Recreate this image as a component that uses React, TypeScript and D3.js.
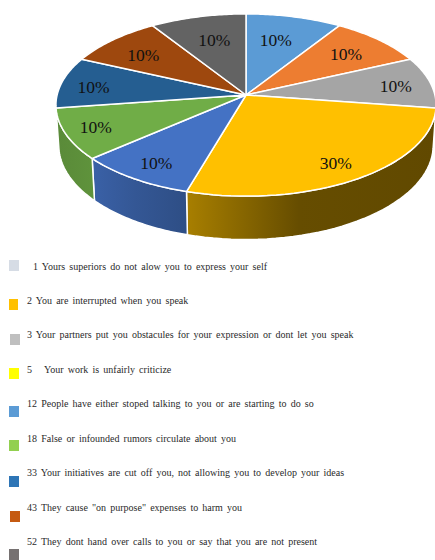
import React from "react";
import * as d3 from "d3";

// Pie slices, clockwise from twelve o'clock
const sliceValues = [10, 10, 10, 30, 10, 10, 10, 10, 10];
const sliceColors = ["#5B9BD5", "#ED7D31", "#A5A5A5", "#FFC000", "#4472C4", "#70AD47", "#255E91", "#9E480E", "#636363"];

// Legend entries
const legendLabels = [
  "1 Yours superiors do not alow you to express your self",
  "2 You are interrupted when you speak",
  "3 Your partners put you obstacules for your expression or dont let you speak",
  "5\u00A0\u00A0 Your work is unfairly criticize",
  "12 People have either stoped talking to you or are starting to do so",
  "18 False or infounded rumors circulate about you",
  "33 Your initiatives are cut off you, not allowing you to develop your ideas",
  '43 They cause "on purpose" expenses to harm you',
  "52 They dont hand over calls to you or say that you are not present",
];
const legendColors = ["#D6DCE5", "#FFC000", "#BFBFBF", "#FFFF00", "#5B9BD5", "#92D050", "#2E75B6", "#C55A11", "#767171"];

// Layout of the tilted disc
const CENTER_X = 246;
const CENTER_Y = 95;
const HALF_WIDTH = 188.9;
const HALF_HEIGHT = 90;
const PERSPECTIVE = 0.11;
const THICKNESS = 40;
const BASE_SHRINK = 0.985;

// How far out each percentage label sits, as a share of the radius, plus a small hand nudge
const labelReach = [0.7, 0.7, 0.8, 0.83, 0.82, 0.84, 0.82, 0.72, 0.7];
const labelNudgeX = [-5, 5, 2, -2, 1, 0, -1, -5, 3];
const labelNudgeY = [1, -2, 1, 0, 1, -1, 2, 0, 1];
// Darkening of the side wall, left and right, per slice
const wallShade: Record<number, number[]> = {
  3: [0.66, 0.4, 0.38],
  4: [0.85, 0.76, 0.68],
  5: [0.8, 0.82, 0.85],
};

// Legend rows: swatch box and text baseline
const swatchX = [9, 9, 10, 9, 9, 9, 9, 10, 9];
const swatchY = [260, 299, 334, 368, 406, 440, 476, 511, 549];
const swatchW = [10, 9, 10, 10, 10, 10, 10, 10, 10];
const textX = [33, 27, 27, 27, 27, 27, 27, 27, 27];
const textY = [270, 304, 338, 373, 407, 442, 476, 511, 545];

const xScale = d3.scaleLinear().domain([-1, 1]).range([CENTER_X - HALF_WIDTH, CENTER_X + HALF_WIDTH]);
const yScale = d3.scaleLinear().domain([-1, 1]).range([CENTER_Y - HALF_HEIGHT, CENTER_Y + HALF_HEIGHT]);

// Projects a point of the disc (angle clockwise from the top, radius 0..1) to the page
function project(angle: number, radius: number, onBase = false): [number, number] {
  const sx = Math.sin(angle) * radius;
  const sz = Math.cos(angle) * radius;
  const persp = 1 / (1 + PERSPECTIVE * sz);
  const shrink = onBase ? BASE_SHRINK : 1;
  const x = xScale(sx * persp * shrink);
  const y = yScale(-sz * persp * shrink) + (onBase ? THICKNESS * persp : 0);
  return [x, y];
}

const toPath = d3.line<[number, number]>();

const arcAngles = (start: number, end: number) => d3.range(0, 41).map((i) => start + ((end - start) * i) / 40);

const slices = d3.pie<number>().sort(null)(sliceValues);

function topPath(start: number, end: number) {
  const rim = arcAngles(start, end).map((a) => project(a, 1));
  return toPath([project(0, 0), ...rim]) + "Z";
}

function wallPath(start: number, end: number) {
  const angles = arcAngles(start, end);
  const upper = angles.map((a) => project(a, 1));
  const lower = angles.map((a) => project(a, 1, true)).reverse();
  return toPath([...upper, ...lower]) + "Z";
}

const shade = (color: string, k: number) => {
  const c = d3.rgb(color);
  return d3.rgb(c.r * k, c.g * k, c.b * k).formatHex();
};

export default function App() {
  const walls = slices.filter((s) => Math.cos((s.startAngle + s.endAngle) / 2) < 0);
  return (
    <svg
      width={435}
      height={560}
      viewBox="0 0 435 560"
      style={{ position: "absolute", left: 0, top: 0, background: "#fff" }}
    >
      <defs>
        {walls.map((s) => (
          <linearGradient key={s.index} id={`wall-${s.index}`} x1="0" x2="1" y1="0" y2="0">
            {wallShade[s.index].map((k, i) => (
              <stop key={i} offset={i === 0 ? 0 : i === 1 ? 0.45 : 1} stopColor={shade(sliceColors[s.index], k)} />
            ))}
          </linearGradient>
        ))}
      </defs>

      {walls.map((s) => (
        <path
          key={s.index}
          d={wallPath(s.startAngle, s.endAngle)}
          fill={`url(#wall-${s.index})`}
          stroke="#fff"
          strokeWidth={1.5}
          strokeLinejoin="round"
        />
      ))}

      {slices.map((s) => (
        <path
          key={s.index}
          d={topPath(s.startAngle, s.endAngle)}
          fill={sliceColors[s.index]}
          stroke="#fff"
          strokeWidth={1.5}
          strokeLinejoin="round"
        />
      ))}

      {slices.map((s) => {
        const [x, y] = project((s.startAngle + s.endAngle) / 2, labelReach[s.index]);
        return (
          <text
            key={s.index}
            x={x + labelNudgeX[s.index]}
            y={y + labelNudgeY[s.index]}
            dy="0.34em"
            textAnchor="middle"
            fontFamily="'Liberation Serif', serif"
            fontSize={17.5}
            fill="#111"
          >
            {`${s.value}%`}
          </text>
        );
      })}

      {legendLabels.map((label, i) => (
        <g key={label}>
          <rect x={swatchX[i]} y={swatchY[i]} width={swatchW[i]} height={11} fill={legendColors[i]} />
          <text
            x={textX[i]}
            y={textY[i]}
            fontFamily="'Liberation Serif', serif"
            fontSize={10}
            wordSpacing={1.65}
            fill="#2a2a2a"
            xmlSpace="preserve"
          >
            {label}
          </text>
        </g>
      ))}
    </svg>
  );
}
